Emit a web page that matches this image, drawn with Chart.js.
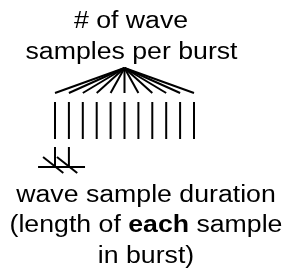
<!DOCTYPE html>
<html>
<head>
<meta charset="utf-8">
<script src="https://cdn.jsdelivr.net/npm/chart.js@4/dist/chart.umd.min.js"></script>
<style>
  html, body { margin: 0; padding: 0; background: #fff; }
  #wrap { width: 285px; height: 270px; }
</style>
</head>
<body>
<div id="wrap"><canvas id="diagram"></canvas></div>
<script>
// wave samples in one burst (x = sample index)
const samples = [1, 2, 3, 4, 5, 6, 7, 8, 9, 10, 11];
const apexSample = 6;
// vertical levels, in px-like units measured from the top
const levels = { apex: 68, fanEnd: 93, barTop: 102, barBottom: 139, tickTop: 147, axis: 167 };
// samples marked for the duration bracket
const durationSamples = [1, 2];
const durationAxis = [-0.22, 3.16];

const topLabel = ['# of wave', 'samples per burst'];
const bottomLabel = [
    [{ t: 'wave sample duration', b: false }],
    [{ t: '(length of ', b: false }, { t: 'each', b: true }, { t: ' sample', b: false }],
    [{ t: 'in burst)', b: false }]
];

function seg(a, b) {
    return {
        data: [a, b],
        showLine: true,
        borderColor: '#000',
        borderWidth: 2,
        pointRadius: 0,
        borderCapStyle: 'butt',
        tension: 0
    };
}

const datasets = [];
samples.forEach((s) => {
    datasets.push(seg({ x: apexSample, y: levels.apex }, { x: s, y: levels.fanEnd }));
    datasets.push(seg({ x: s, y: levels.barTop }, { x: s, y: levels.barBottom }));
});
datasets.push(seg({ x: durationAxis[0], y: levels.axis }, { x: durationAxis[1], y: levels.axis }));
durationSamples.forEach((s) => {
    datasets.push(seg({ x: s, y: levels.tickTop }, { x: s, y: levels.axis }));
    datasets.push(seg({ x: s - 0.86, y: levels.axis - 10 }, { x: s + 0.6, y: levels.axis + 6 }));
});

const textPlugin = {
    id: 'labels',
    afterDraw(chart) {
        const ctx = chart.ctx;
        const stretch = 1.16;
        const fam = '"Liberation Sans", Arial, sans-serif';
        ctx.save();
        ctx.fillStyle = '#000';
        ctx.textBaseline = 'alphabetic';

        function drawLine(parts, cx, baseline) {
            let w = 0;
            parts.forEach((p) => {
                ctx.font = (p.b ? 'bold ' : '') + '23px ' + fam;
                w += ctx.measureText(p.t).width;
            });
            ctx.save();
            ctx.translate(cx, baseline);
            ctx.scale(stretch, 1);
            let x = -w / 2;
            parts.forEach((p) => {
                ctx.font = (p.b ? 'bold ' : '') + '23px ' + fam;
                ctx.fillText(p.t, x, 0);
                x += ctx.measureText(p.t).width;
            });
            ctx.restore();
        }

        drawLine([{ t: topLabel[0], b: false }], 131, 28);
        drawLine([{ t: topLabel[1], b: false }], 131.5, 59);
        const bases = [202, 232, 263];
        bottomLabel.forEach((parts, i) => drawLine(parts, 146, bases[i]));
        ctx.restore();
    }
};

// scale: one sample = 13.9px, sample 1 sits at 55px
const unit = 13.9;
const xMin = 1 - 55 / unit;

new Chart(document.getElementById('diagram'), {
    type: 'scatter',
    data: { datasets: datasets },
    options: {
        responsive: true,
        maintainAspectRatio: false,
        animation: false,
        layout: { padding: 0 },
        plugins: { legend: { display: false }, tooltip: { enabled: false } },
        scales: {
            x: { type: 'linear', display: false, min: xMin, max: xMin + 285 / unit },
            y: { type: 'linear', display: false, min: 0, max: 270, reverse: true }
        }
    },
    plugins: [textPlugin]
});
</script>
</body>
</html>
